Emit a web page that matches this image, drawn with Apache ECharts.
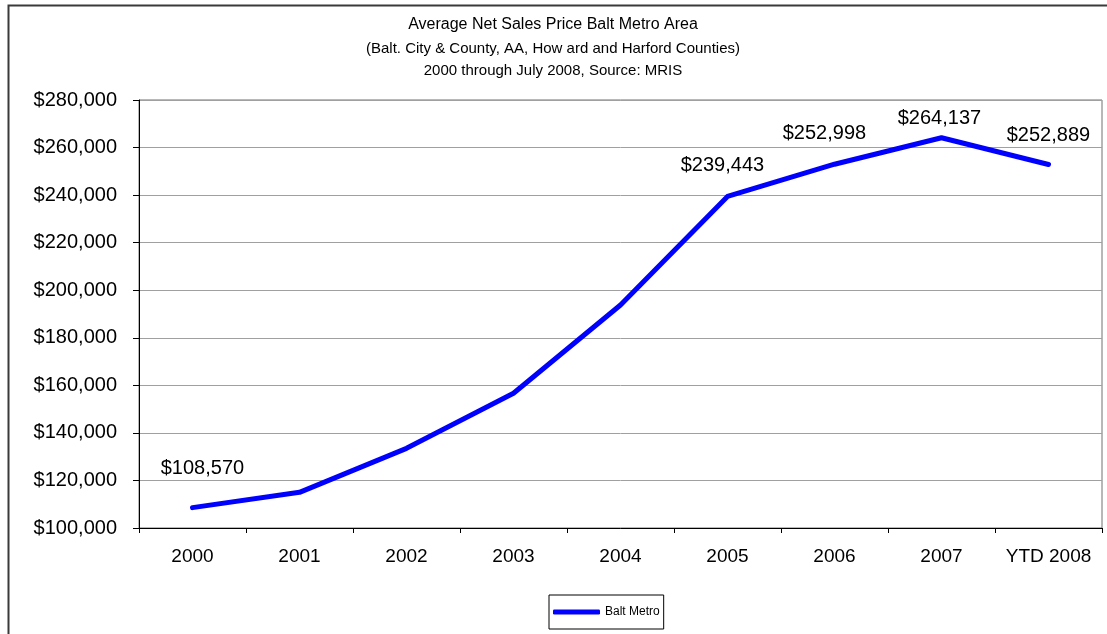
<!DOCTYPE html>
<html>
<head>
<meta charset="utf-8">
<script src="https://cdn.jsdelivr.net/npm/echarts@6/dist/echarts.min.js"></script>
<style>
html,body{margin:0;padding:0;background:#fff;}
#chart{width:1107px;height:634px;}
</style>
</head>
<body>
<div id="chart"></div>
<script>
const categories = ['2000','2001','2002','2003','2004','2005','2006','2007','YTD 2008'];
const baltMetro = [108570, 115000, 133500, 156650, 193800, 239443, 252998, 264137, 252889];
const labeledIndices = [0, 5, 6, 7, 8];
const titleLines = [
  'Average Net Sales Price Balt Metro Area',
  '(Balt. City & County, AA, How ard and Harford Counties)',
  '2000 through July 2008, Source: MRIS'
];
const yMin = 100000, yMax = 280000, yStep = 20000;

// label placement relative to the point (style, not data)
const labelPositions = {0: [10, -39], 5: [-5, -31], 6: [-10, -31], 7: [-2, -19], 8: [0, -29]};

const FONT = "'Liberation Sans', Arial, sans-serif";
const fmt = v => '$' + v.toString().replace(/\B(?=(\d{3})+(?!\d))/g, ',');

const seriesData = baltMetro.map((v, i) => {
  if (labeledIndices.indexOf(i) >= 0) {
    return {
      value: v,
      label: {show: true, position: labelPositions[i], align: 'center', verticalAlign: 'middle',
        formatter: p => fmt(p.value), fontSize: 20, color: '#000', fontFamily: FONT}
    };
  }
  return v;
});

const chart = echarts.init(document.getElementById('chart'), null, {renderer: 'canvas'});
chart.setOption({
  animation: false,
  backgroundColor: '#fff',
  graphic: [
    {type: 'rect', left: 6, top: 3, shape: {x: 0, y: 0, width: 1200, height: 700},
      style: {fill: 'none', stroke: '#3a3a3a', lineWidth: 2}, silent: true, z: -1},
    {type: 'text', x: 553, y: 25, style: {text: titleLines[0], fontSize: 16, fontFamily: FONT,
      fill: '#000', align: 'center', verticalAlign: 'middle'}},
    {type: 'text', x: 553, y: 49, style: {text: titleLines[1], fontSize: 15, fontFamily: FONT,
      fill: '#000', align: 'center', verticalAlign: 'middle'}},
    {type: 'text', x: 553, y: 71, style: {text: titleLines[2], fontSize: 15, fontFamily: FONT,
      fill: '#000', align: 'center', verticalAlign: 'middle'}}
  ],
  grid: {left: 139, right: 5, top: 100, bottom: 106, show: true, borderColor: '#707070', borderWidth: 1},
  legend: {
    left: 549, top: 595, orient: 'horizontal',
    borderColor: '#000', borderWidth: 1, borderRadius: 0,
    padding: [11, 4, 11, 4],
    itemWidth: 47, itemHeight: 5, icon: 'roundRect',
    textStyle: {fontSize: 12, fontFamily: FONT, color: '#000'},
    data: ['Balt Metro']
  },
  xAxis: {
    type: 'category', data: categories, boundaryGap: true,
    axisLine: {lineStyle: {color: '#000', width: 1}},
    axisTick: {show: true, length: 5, lineStyle: {color: '#000'}},
    axisLabel: {fontSize: 19, fontFamily: FONT, color: '#000', margin: 19, interval: 0},
    splitLine: {show: false}
  },
  yAxis: {
    type: 'value', min: yMin, max: yMax, interval: yStep,
    axisLine: {show: true, lineStyle: {color: '#000', width: 1}},
    axisTick: {show: true, length: 6, lineStyle: {color: '#000'}},
    axisLabel: {fontSize: 20, fontFamily: FONT, color: '#000', margin: 22, formatter: v => fmt(v)},
    splitLine: {show: true, lineStyle: {color: '#a0a0a0', width: 1}}
  },
  series: [{
    name: 'Balt Metro', type: 'line', data: seriesData,
    symbol: 'circle', symbolSize: 0.1, showSymbol: true, smooth: false,
    lineStyle: {color: '#0000ff', width: 5, cap: 'round', join: 'round'},
    itemStyle: {color: '#0000ff'},
    labelLayout: {hideOverlap: false}
  }]
});
</script>
</body>
</html>
